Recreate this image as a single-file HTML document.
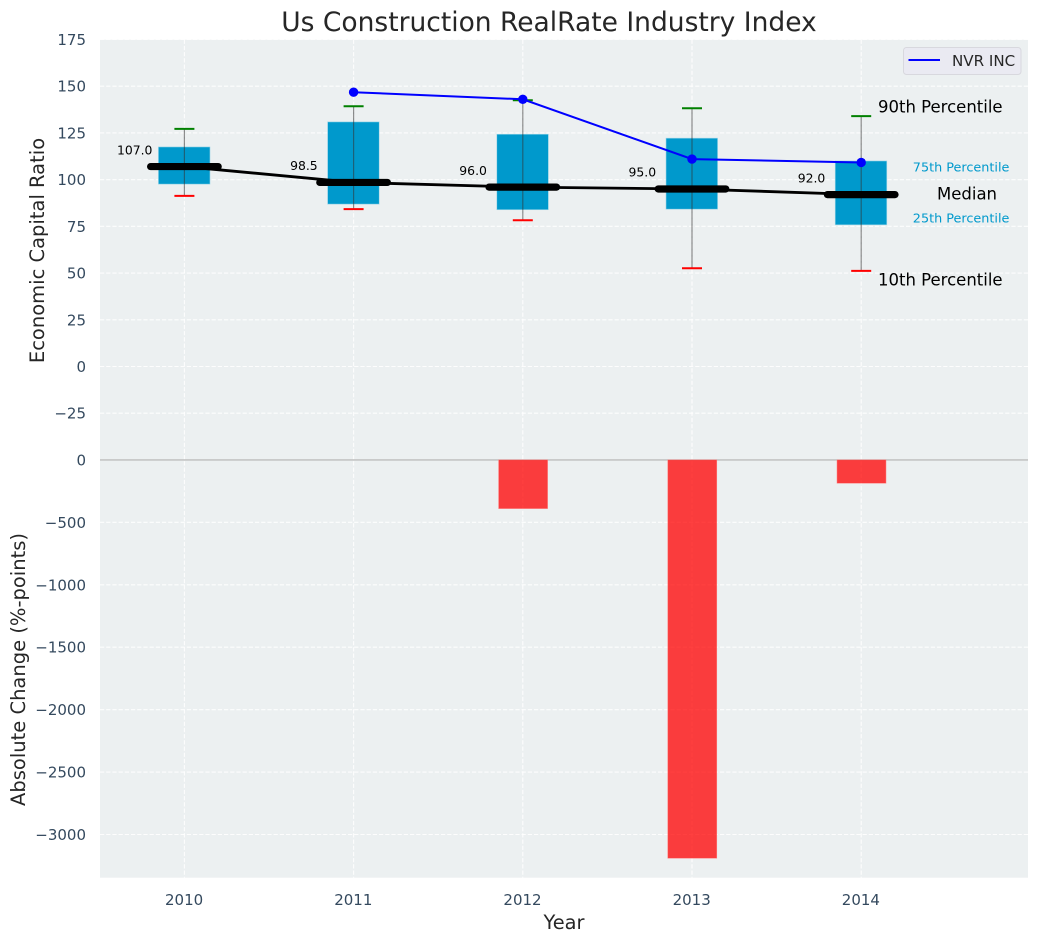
<!DOCTYPE html>
<html lang="en">
<head>
<meta charset="utf-8">
<title>Us Construction RealRate Industry Index</title>
<style>
html,body{margin:0;padding:0;background:#fff;width:1039px;height:942px;overflow:hidden}
svg{display:block;font-family:"DejaVu Sans","Liberation Sans",sans-serif}
</style>
</head>
<body>
<svg id="chart" xmlns="http://www.w3.org/2000/svg" width="1039" height="942" viewBox="0 0 1039 942"></svg>
<script>
const years = ['2010', '2011', '2012', '2013', '2014'];
const p90 = [127.2, 139.3, 142.5, 138.2, 134];
const q3 = [117.5, 130.9, 124.3, 122.2, 110];
const medians = [107, 98.5, 96, 95, 92];
const q1 = [97.6, 86.9, 83.9, 84.2, 75.8];
const p10 = [91.3, 84.2, 78.3, 52.6, 51.2];
const nvrValues = [null, 146.8, 143, 111, 109.2];
const changeValues = [0, 0, -390, -3190, -187];
const upperTicks = [175, 150, 125, 100, 75, 50, 25, 0, -25];
const lowerTicks = [0, -500, -1000, -1500, -2000, -2500, -3000];

const svg = document.getElementById('chart');
const NS = 'http://www.w3.org/2000/svg';
const plotLeft = 100, plotRight = 1028, upperTop = 39.7, upperBottom = 459.7, lowerBottom = 877.7;

function xScale(i) { return 184.4 + i * 169.2; }
function yUpper(v) { return 366.5 - v * 1.8686; }
function yLower(v) { return 459.9 - v * 0.12487; }
function fmt(v) { return String(v).replace('-', '\u2212'); }

function make(tag, attrs, text) {
  const el = document.createElementNS(NS, tag);
  for (const k in attrs) el.setAttribute(k, attrs[k]);
  if (text !== undefined) el.textContent = text;
  svg.appendChild(el);
  return el;
}
const GRID = { stroke: '#ffffff', 'stroke-width': 1.1, 'stroke-dasharray': '4.2 2', opacity: 0.9 };
let el;

el = make('rect', { x: plotLeft, y: upperTop, width: plotRight - plotLeft, height: upperBottom - upperTop, fill: '#ecf0f1' });


el = make('rect', { x: plotLeft, y: upperBottom, width: plotRight - plotLeft, height: lowerBottom - upperBottom, fill: '#ecf0f1' });



upperTicks.forEach(function (t) {
  el = make('line', Object.assign({ x1: plotLeft, x2: plotRight, y1: yUpper(t), y2: yUpper(t) }, GRID));
  
  
  el = make('text', { x: 86, y: yUpper(t) + 5.5, 'text-anchor': 'end', 'font-size': 15, fill: '#34495e' }, fmt(t));
  
  
});
lowerTicks.forEach(function (t) {
  if (t !== 0) {
    el = make('line', Object.assign({ x1: plotLeft, x2: plotRight, y1: yLower(t), y2: yLower(t) }, GRID));
    
    
  }
  el = make('text', { x: 86, y: yLower(t) + 5.5, 'text-anchor': 'end', 'font-size': 15, fill: '#34495e' }, fmt(t));
  
  
});
years.forEach(function (y, i) {
  el = make('line', Object.assign({ x1: xScale(i), x2: xScale(i), y1: upperTop, y2: lowerBottom }, GRID));
  
  
  el = make('text', { x: xScale(i) - 0.3, y: 905, 'text-anchor': 'middle', 'font-size': 15, fill: '#34495e' }, y);
  
  
});

el = make('line', { x1: plotLeft, x2: plotRight, y1: yLower(0), y2: yLower(0), stroke: '#bdbdbd', 'stroke-width': 1.4 });



changeValues.forEach(function (v, i) {
  if (v === 0) return;
  el = make('rect', { x: xScale(i) - 24.2, y: yLower(0), width: 49, height: yLower(v) - yLower(0), fill: '#ff0000', 'fill-opacity': 0.75, stroke: '#ff8080', 'stroke-width': 0.5 });
  
  
});

years.forEach(function (y, i) {
  el = make('rect', { x: xScale(i) - 26, y: yUpper(q3[i]), width: 51.6, height: yUpper(q1[i]) - yUpper(q3[i]), fill: '#0099cc', stroke: '#9fd6e8', 'stroke-width': 0.6 });
  
  
});

el = make('polyline', { points: years.map(function (y, i) { return xScale(i) + ',' + yUpper(medians[i]); }).join(' '), fill: 'none', stroke: '#000000', 'stroke-width': 2.8 });



years.forEach(function (y, i) {
  el = make('line', { x1: xScale(i), x2: xScale(i), y1: yUpper(p90[i]), y2: yUpper(p10[i]), stroke: '#333333', 'stroke-opacity': 0.55, 'stroke-width': 1.2 });
  
  
  el = make('line', { x1: xScale(i) - 10, x2: xScale(i) + 10, y1: yUpper(p90[i]), y2: yUpper(p90[i]), stroke: '#008000', 'stroke-width': 2 });
  
  
  el = make('line', { x1: xScale(i) - 10, x2: xScale(i) + 10, y1: yUpper(p10[i]), y2: yUpper(p10[i]), stroke: '#ff0000', 'stroke-width': 2 });
  
  
  el = make('line', { x1: xScale(i) - 33.8, x2: xScale(i) + 33.8, y1: yUpper(medians[i]), y2: yUpper(medians[i]), stroke: '#000000', 'stroke-width': 7.2, 'stroke-linecap': 'round' });
  
  
  el = make('text', { x: xScale(i) - 49.7, y: yUpper(medians[i]) - 12.3, 'text-anchor': 'middle', 'font-size': 12.4, fill: '#000000' }, medians[i].toFixed(1));
  
  
});

const nvrPoints = [];
nvrValues.forEach(function (v, i) { if (v !== null) nvrPoints.push(xScale(i) + ',' + yUpper(v)); });
el = make('polyline', { points: nvrPoints.join(' '), fill: 'none', stroke: '#0000ff', 'stroke-width': 2 });


nvrValues.forEach(function (v, i) {
  if (v === null) return;
  el = make('circle', { cx: xScale(i), cy: yUpper(v), r: 4.7, fill: '#0000ff' });
  
  
});

const last = years.length - 1;
el = make('text', { x: 878, y: yUpper(p90[last]) - 3.5, 'font-size': 16.5, fill: '#000000' }, '90th Percentile');


el = make('text', { x: 912.8, y: yUpper(q3[last]) + 10.5, 'font-size': 12.8, fill: '#0099cc' }, '75th Percentile');


el = make('text', { x: 937, y: yUpper(medians[last]) + 5, 'font-size': 16.5, fill: '#000000' }, 'Median');


el = make('text', { x: 912.8, y: yUpper(q1[last]) - 2.5, 'font-size': 12.8, fill: '#0099cc' }, '25th Percentile');


el = make('text', { x: 878, y: yUpper(p10[last]) + 14.5, 'font-size': 16.5, fill: '#000000' }, '10th Percentile');



el = make('rect', { x: 903.5, y: 47.5, width: 117.5, height: 27, rx: 3, fill: '#eaeaf2', stroke: '#d8d8de', 'stroke-width': 1 });


el = make('line', { x1: 908.5, x2: 940, y1: 60, y2: 60, stroke: '#0000ff', 'stroke-width': 2 });


el = make('text', { x: 952, y: 66, 'font-size': 15.1, fill: '#262626' }, 'NVR INC');



el = make('text', { x: 549, y: 31, 'text-anchor': 'middle', 'font-size': 26.5, fill: '#262626' }, 'Us Construction RealRate Industry Index');


el = make('text', { x: 564, y: 929, 'text-anchor': 'middle', 'font-size': 19.4, fill: '#262626' }, 'Year');


el = make('text', { x: 0, y: 0, transform: 'translate(44,250.5) rotate(-90)', 'text-anchor': 'middle', 'font-size': 19.5, fill: '#262626' }, 'Economic Capital Ratio');


el = make('text', { x: 0, y: 0, transform: 'translate(25,669.5) rotate(-90)', 'text-anchor': 'middle', 'font-size': 19.5, fill: '#262626' }, 'Absolute Change (%-points)');


</script>
</body>
</html>
